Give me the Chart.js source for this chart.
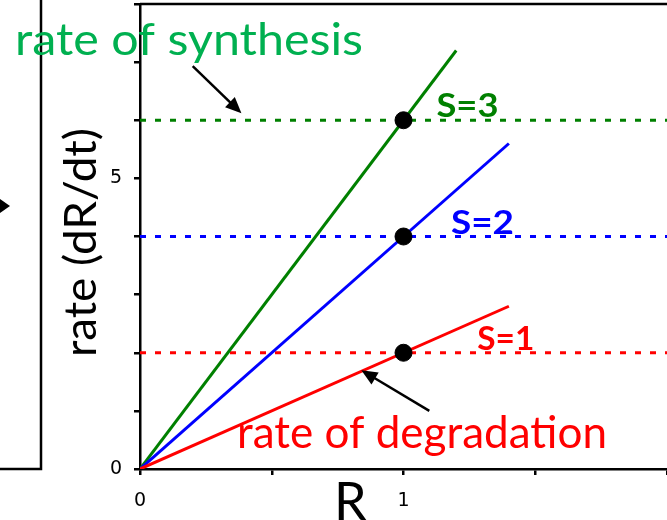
<!DOCTYPE html>
<html>
<head>
<meta charset="utf-8">
<script src="https://cdn.jsdelivr.net/npm/chart.js@4"></script>
<style>
  html, body { margin: 0; padding: 0; background: #fff; overflow: hidden; }
  #wrap { width: 667px; height: 520px; position: relative; }
</style>
</head>
<body>
<div id="wrap"><canvas id="chart" width="667" height="520"></canvas></div>
<script>
// signal strength S for each curve, and the synthesis rate it sets
const sValues = [1, 2, 3];
const synthesisRate = [2, 4, 6];
// degradation-rate lines start at the origin and end here
const lineEndR = [1.4, 1.4, 1.2];
const lineEndRate = [2.8, 5.6, 7.2];
// steady states (intersection points)
const steadyR = [1, 1, 1];
const steadyRate = [2, 4, 6];
const colors = ['#ff0000', '#0000ff', '#008000'];
const labelR = [1.28, 1.18, 1.125];

const yTickLabels = { 0: '0', 5: '5' };
const xTickLabels = { 0: '0', 1: '1' };

document.addEventListener('DOMContentLoaded', () => {
  const datasets = [];
  sValues.forEach((s, i) => {
    datasets.push({
      label: 'synthesis S=' + s,
      data: [{ x: 0, y: synthesisRate[i] }, { x: 2, y: synthesisRate[i] }],
      borderColor: colors[i], borderWidth: 3, borderDash: [6, 9],
      pointRadius: 0, showLine: true, order: 3
    });
    datasets.push({
      label: 'degradation S=' + s,
      data: [{ x: 0, y: 0 }, { x: lineEndR[i], y: lineEndRate[i] }],
      borderColor: colors[i], borderWidth: 3,
      pointRadius: 0, showLine: true, order: 2
    });
  });
  datasets.push({
    label: 'steady state',
    data: steadyR.map((r, i) => ({ x: r, y: steadyRate[i] })),
    pointRadius: 8.5, pointBackgroundColor: '#000', pointBorderColor: '#000',
    showLine: false, order: 1
  });

  const arrow = (ctx, x1, y1, x2, y2) => {
    const a = Math.atan2(y2 - y1, x2 - x1), L = 16, W = 7;
    ctx.beginPath();
    ctx.moveTo(x1, y1);
    ctx.lineTo(x2 - L * 0.8 * Math.cos(a), y2 - L * 0.8 * Math.sin(a));
    ctx.stroke();
    ctx.beginPath();
    ctx.moveTo(x2, y2);
    ctx.lineTo(x2 - L * Math.cos(a) + W * Math.sin(a), y2 - L * Math.sin(a) - W * Math.cos(a));
    ctx.lineTo(x2 - L * Math.cos(a) - W * Math.sin(a), y2 - L * Math.sin(a) + W * Math.cos(a));
    ctx.closePath();
    ctx.fill();
  };

  // draw text starting at x, stretched to a given width
  const fitText = (ctx, text, x, y, width) => {
    const w = ctx.measureText(text).width;
    ctx.save();
    ctx.translate(x, y);
    ctx.scale(width / w, 1);
    ctx.fillText(text, 0, 0);
    ctx.restore();
  };

  const decor = {
    id: 'decor',
    afterDraw(chart) {
      const { ctx, chartArea: ca, scales: { x, y } } = chart;
      ctx.save();
      ctx.strokeStyle = '#000'; ctx.fillStyle = '#000'; ctx.lineWidth = 2.5;
      // edge of neighbouring panel
      ctx.beginPath();
      ctx.moveTo(41, 0); ctx.lineTo(41, ca.bottom); ctx.lineTo(0, ca.bottom);
      ctx.stroke();
      ctx.beginPath();
      ctx.moveTo(0, 199); ctx.lineTo(10, 206); ctx.lineTo(0, 213); ctx.closePath();
      ctx.fill();
      // top frame
      ctx.beginPath();
      ctx.moveTo(ca.left, ca.top); ctx.lineTo(ca.right, ca.top);
      ctx.stroke();

      // axis titles
      ctx.textAlign = 'left'; ctx.textBaseline = 'alphabetic';
      ctx.font = '45px Lato';
      ctx.save();
      ctx.translate(96, 357);
      ctx.rotate(-Math.PI / 2);
      fitText(ctx, 'rate (dR/dt)', 0, 0, 229);
      ctx.restore();
      ctx.font = '52px Lato';
      ctx.fillText('R', 334, 520);

      // arrows
      ctx.lineWidth = 2.5;
      arrow(ctx, x.getPixelForValue(0.2), y.getPixelForValue(6.93),
        x.getPixelForValue(0.385), y.getPixelForValue(6.12));
      arrow(ctx, x.getPixelForValue(1.098), y.getPixelForValue(1.0),
        x.getPixelForValue(0.84), y.getPixelForValue(1.7));

      // annotations
      ctx.font = '45px Lato';
      ctx.fillStyle = '#00b050';
      fitText(ctx, 'rate of synthesis', 15, 55, 348);
      ctx.fillStyle = '#ff0000';
      fitText(ctx, 'rate of degradation', 237, 448, 370);

      ctx.font = 'bold 32px Lato';
      const sWidth = [57, 63, 62];
      sValues.forEach((s, i) => {
        ctx.fillStyle = colors[i];
        fitText(ctx, 'S=' + s, x.getPixelForValue(labelR[i]), y.getPixelForValue(synthesisRate[i]) - 3, sWidth[i]);
      });
      ctx.restore();
    }
  };

  new Chart(document.getElementById('chart'), {
    type: 'scatter',
    data: { datasets },
    options: {
      responsive: false,
      animation: false,
      layout: { autoPadding: false, padding: { top: 4, right: 0, left: 0, bottom: 0 } },
      plugins: { legend: { display: false }, tooltip: { enabled: false } },
      scales: {
        x: {
          type: 'linear', min: 0, max: 2,
          afterFit: s => { s.height = 51; s.paddingLeft = 0; s.paddingRight = 0; },
          ticks: {
            stepSize: 0.5, padding: 15, color: '#000',
            font: { family: 'DejaVu Sans', size: 19 },
            maxRotation: 0,
            callback: v => xTickLabels[v] ?? ''
          },
          grid: { drawOnChartArea: false, drawTicks: true, tickLength: 6, color: '#000', lineWidth: 2.5 },
          border: { display: true, color: '#000', width: 2.5 }
        },
        y: {
          type: 'linear', min: 0, max: 8,
          afterFit: s => { s.width = 140; s.paddingTop = 0; s.paddingBottom = 0; },
          ticks: {
            stepSize: 1, padding: 12, color: '#000',
            font: { family: 'DejaVu Sans', size: 19 },
            callback: v => yTickLabels[v] ?? ''
          },
          grid: { drawOnChartArea: false, drawTicks: true, tickLength: 6, color: '#000', lineWidth: 2.5 },
          border: { display: true, color: '#000', width: 2.5 }
        }
      }
    },
    plugins: [decor]
  });
});
</script>
</body>
</html>
